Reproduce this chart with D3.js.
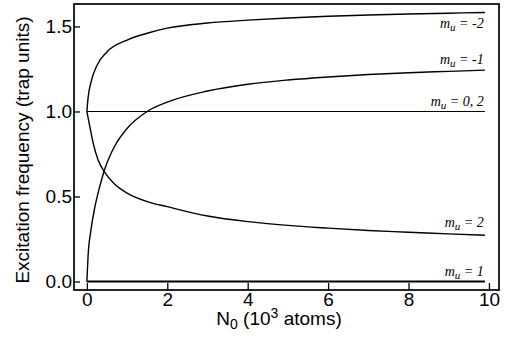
<!DOCTYPE html>
<html>
<head>
<meta charset="utf-8">
<script src="https://cdn.jsdelivr.net/npm/d3@7"></script>
<style>
  html, body { margin: 0; padding: 0; background: #fff; }
  svg { display: block; }
</style>
</head>
<body>
<svg id="chart" width="506" height="339"></svg>
<script>
// ---- data ----
const xTicks = [0, 2, 4, 6, 8, 10];
const yTicks = [0.0, 0.5, 1.0, 1.5];

const xMinus2 = [0, 0.03, 0.1, 0.25, 0.5, 1, 1.5, 2, 3, 4, 5, 6, 7, 8, 9, 9.9];
const yMinus2 = [1.0, 1.08, 1.17, 1.27, 1.35, 1.42, 1.46, 1.49, 1.52, 1.537, 1.55, 1.56, 1.567, 1.573, 1.578, 1.582];

const xMinus1 = [0, 0.03, 0.1, 0.2, 0.3, 0.45, 0.7, 1, 1.5, 2, 3, 4, 5, 6, 7, 8, 9, 9.9];
const yMinus1 = [0, 0.15, 0.3, 0.44, 0.54, 0.665, 0.80, 0.9, 1.0, 1.055, 1.12, 1.16, 1.185, 1.203, 1.217, 1.228, 1.236, 1.243];

const xZero = [0, 9.9];
const yZero = [1.0, 1.0];

const xPlus2 = [0, 0.075, 0.16, 0.28, 0.45, 0.7, 1, 1.5, 2, 3, 4, 5, 6, 7, 8, 9, 9.9];
const yPlus2 = [1.0, 0.91, 0.81, 0.715, 0.64, 0.57, 0.52, 0.47, 0.44, 0.385, 0.352, 0.33, 0.314, 0.30, 0.29, 0.28, 0.272];

const xPlus1 = [0, 9.9];
const yPlus1 = [0, 0];

const labelNums = ["-2", "-1", "0, 2", "2", "1"];

// ---- drawing ----
const svg = d3.select("#chart");
const pLeft = 74, pRight = 499, pTop = 4, pBottom = 290;

const x = d3.scaleLinear().domain([-0.32, 10.25]).range([pLeft, pRight]);
const y = d3.scaleLinear().domain([-0.05, 1.632]).range([pBottom, pTop]);

const sans = "'Liberation Sans', Arial, Helvetica, sans-serif";

// axes (ticks inward)
const xAxis = d3.axisBottom(x).tickValues(xTicks).tickSize(-7).tickPadding(2).tickFormat(d3.format("d"));
const yAxis = d3.axisLeft(y).tickValues(yTicks).tickSize(-6).tickPadding(2).tickFormat(d3.format(".1f"));

const gx = svg.append("g").attr("transform", `translate(0,${pBottom})`).call(xAxis);
const gy = svg.append("g").attr("transform", `translate(${pLeft},0)`).call(yAxis);
[gx, gy].forEach(g => {
  g.select(".domain").remove();
  g.selectAll(".tick line").attr("stroke", "#000").attr("stroke-width", 1.3);
  g.selectAll(".tick text").attr("fill", "#000").style("font-family", sans).style("font-size", "19px");
});

// frame
svg.append("rect")
  .attr("x", pLeft).attr("y", pTop)
  .attr("width", pRight - pLeft).attr("height", pBottom - pTop)
  .attr("fill", "none").attr("stroke", "#000").attr("stroke-width", 1.7);

// curves
const line = d3.line().x(d => x(d[0])).y(d => y(d[1])).curve(d3.curveMonotoneX);
const series = [
  { xs: xMinus2, ys: yMinus2, w: 1.4 },
  { xs: xMinus1, ys: yMinus1, w: 1.4 },
  { xs: xZero,   ys: yZero,   w: 1.1 },
  { xs: xPlus2,  ys: yPlus2,  w: 1.4 },
  { xs: xPlus1,  ys: yPlus1,  w: 2.0 }
];
series.forEach(s => {
  svg.append("path")
    .datum(s.xs.map((v, i) => [v, s.ys[i]]))
    .attr("d", line)
    .attr("fill", "none")
    .attr("stroke", "#000")
    .attr("stroke-width", s.w);
});

// curve labels
const offsets = [15, -6, -5, -8, -5];
series.forEach((s, i) => {
  const last = s.ys[s.ys.length - 1];
  const t = svg.append("text")
    .attr("x", x(9.87))
    .attr("y", y(last) + offsets[i])
    .attr("text-anchor", "end")
    .style("font-family", "'Liberation Serif', 'Times New Roman', serif")
    .style("font-style", "italic")
    .style("font-size", "14px")
    .attr("fill", "#000");
  t.append("tspan").text("m");
  t.append("tspan").attr("dy", 3).style("font-size", "11px").text("u");
  t.append("tspan").attr("dy", -3).text(" = " + labelNums[i]);
});

// axis titles
const xt = svg.append("text")
  .attr("x", 279).attr("y", 325)
  .attr("text-anchor", "middle")
  .style("font-family", sans).style("font-size", "19px").attr("fill", "#000");
xt.append("tspan").text("N");
xt.append("tspan").attr("dy", 4).style("font-size", "14px").text("0");
xt.append("tspan").attr("dy", -4).text(" (10");
xt.append("tspan").attr("dy", -7).style("font-size", "14px").text("3");
xt.append("tspan").attr("dy", 7).text(" atoms)");

svg.append("text")
  .attr("transform", "translate(29,150) rotate(-90)")
  .attr("text-anchor", "middle")
  .style("font-family", sans).style("font-size", "19px").attr("fill", "#000")
  .text("Excitation frequency (trap units)");
</script>
</body>
</html>
